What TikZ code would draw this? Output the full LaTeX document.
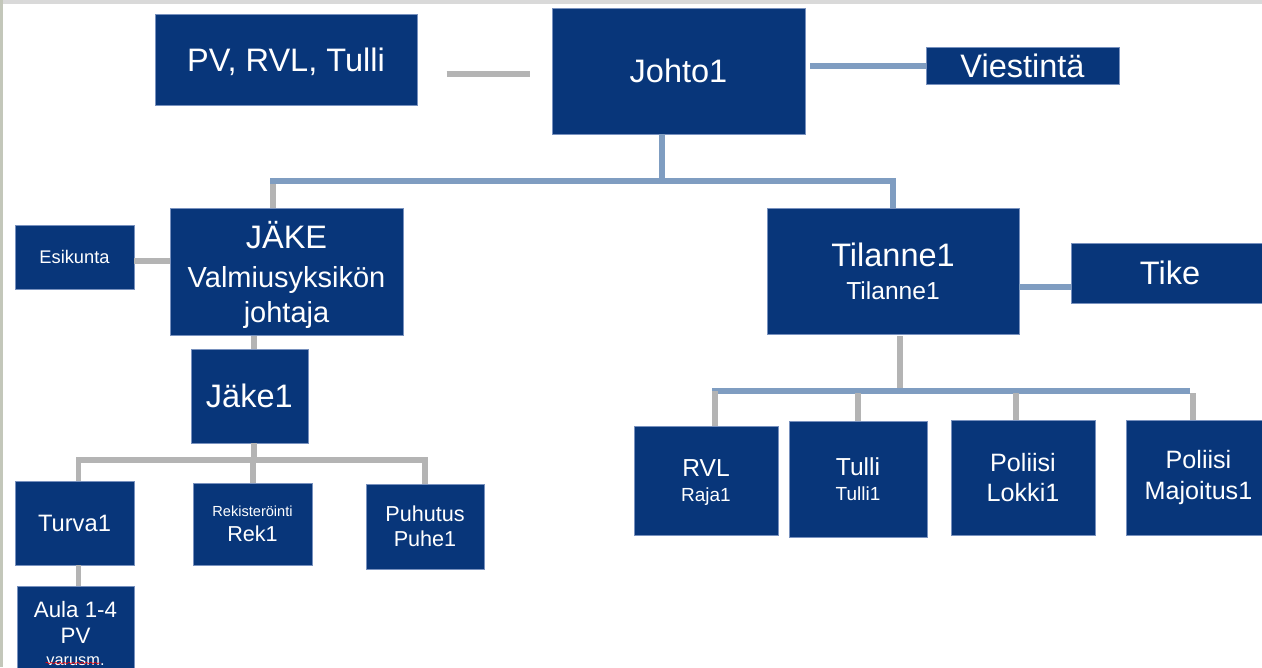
\documentclass[tikz,border=0pt]{standalone}
\usepackage{fontspec}
\setmainfont{Liberation Sans}
\usetikzlibrary{decorations.pathmorphing}

\definecolor{boxblue}{RGB}{8,54,122}
\definecolor{boxedge}{RGB}{120,145,190}
\definecolor{linkblue}{RGB}{127,157,193}
\definecolor{linkgray}{RGB}{180,180,180}
\definecolor{topband}{RGB}{217,217,217}
\definecolor{leftedge}{RGB}{195,199,186}

\newcommand{\txtxl}{\fontsize{18.5}{22}\selectfont}
\newcommand{\txtl}{\fontsize{16.5}{19.9}\selectfont}
\newcommand{\txtm}{\fontsize{14}{16.8}\selectfont}
\newcommand{\txtn}{\fontsize{12.3}{14.2}\selectfont}
\newcommand{\txts}{\fontsize{10.8}{13}\selectfont}
\newcommand{\txtxs}{\fontsize{9.3}{11}\selectfont}
\newcommand{\txtxxs}{\fontsize{8.3}{10}\selectfont}

\tikzstyle{unit}=[rectangle,draw=boxedge,line width=0.3pt,fill=boxblue,text=white,align=center,inner sep=0pt]
\tikzstyle{bluelink}=[draw=linkblue,line width=0.12cm]
\tikzstyle{graylink}=[draw=linkgray,line width=0.12cm]

\begin{document}
\begin{tikzpicture}[x=0.02cm,y=-0.02cm]
  \def\pxl{0.02cm};

  \useasboundingbox (0,0) rectangle (1262,667);
  \clip (0,0) rectangle (1262,667);
  \fill[white] (0,0) rectangle (1262,667);
  \fill[topband] (0,0) rectangle (1262,4);
  \fill[leftedge] (0,0) rectangle (3.5,667);

  % top row
  \node[unit, minimum width=262*\pxl, minimum height=91*\pxl, text depth=0pt, font=\txtxl] (pv) at (286,59.5) {PV, RVL, Tulli};
  \node[unit, minimum width=253*\pxl, minimum height=126*\pxl, font=\txtxl] (johto) at (678.5,71) {Johto1};
  \node[unit, minimum width=193*\pxl, minimum height=37*\pxl, font=\txtxl] (viest) at (1022.5,65.5) {Viestintä};

  % left branch
  \node[unit, minimum width=119*\pxl, minimum height=64*\pxl, font=\fontsize{10.4}{12}\selectfont] (esik) at (74.5,257) {Esikunta};
  \node[unit, minimum width=233*\pxl, minimum height=127*\pxl, text depth=0pt, font=\txtl] (jake) at (286.5,272)
    {{\txtxl JÄKE}\\[2.3pt]Valmiusyksikön\\johtaja};
  \node[unit, minimum width=117*\pxl, minimum height=94*\pxl, font=\txtxl] (jake1) at (249.3,396) {Jäke1};
  \node[unit, minimum width=119*\pxl, minimum height=84*\pxl, font=\fontsize{13.5}{16}\selectfont] (turva) at (74.5,523) {Turva1};
  \node[unit, minimum width=119*\pxl, minimum height=82*\pxl, font=\txtn] (rek) at (252.5,524)
    {{\txtxxs Rekisteröinti}\\Rek1};
  \node[unit, minimum width=118*\pxl, minimum height=85*\pxl, font=\txtn] (puhe) at (425,526.5)
    {Puhutus\\Puhe1};
  \node[unit, minimum width=117*\pxl, minimum height=95*\pxl, font=\fontsize{12.7}{14.8}\selectfont] (aula) at (75.5,633.5)
    {Aula 1-4\\PV\\[-2.8pt]{\txtxs varusm.}};

  % right branch
  \node[unit, minimum width=252*\pxl, minimum height=126*\pxl, font=\fontsize{18.5}{18.6}\selectfont] (tilanne) at (893,271)
    {Tilanne1\\{\txtm Tilanne1}};
  \node[unit, minimum width=198*\pxl, minimum height=60*\pxl, font=\txtxl] (tike) at (1170,273) {Tike};
  \node[unit, minimum width=144*\pxl, minimum height=109*\pxl, text depth=0pt, font=\fontsize{14}{14}\selectfont] (rvl) at (706,480.5)
    {RVL\\{\txts Raja1}};
  \node[unit, minimum width=138*\pxl, minimum height=116*\pxl, font=\fontsize{14}{14.2}\selectfont] (tulli) at (858,479)
    {Tulli\\{\txts Tulli1}};
  \node[unit, minimum width=144*\pxl, minimum height=115*\pxl, font=\fontsize{14.3}{17.6}\selectfont] (lokki) at (1023,477.5)
    {Poliisi\\Lokki1};
  \node[unit, minimum width=144*\pxl, minimum height=115*\pxl, font=\fontsize{14.3}{17.6}\selectfont] (majoitus) at (1198.5,477.5)
    {Poliisi\\Majoitus1};

  % spell check mark
  \draw[red, line width=0.3pt, decorate, decoration={snake, amplitude=0.5pt, segment length=2.5pt}]
    ([shift={(-30,29.5)}]aula.center) -- ([shift={(25,29.5)}]aula.center);

  % connectors at the top
  \draw[graylink] ([shift={(-105,3)}]johto.west) -- ([shift={(-22,3)}]johto.west);
  \draw[bluelink] ([shift={(5,0)}]johto.east |- viest.west) -- (viest.west);
  \coordinate (topbar) at ([shift={(-17,47)}]johto.south);
  \coordinate (jaketop) at ([shift={(-14,0)}]jake.north);
  \draw[bluelink] ([shift={(-17,0)}]johto.south) -- (topbar);
  \draw[bluelink] (tilanne.north) |- (topbar);
  \draw[bluelink] (topbar) -- ([shift={(-3,0)}]jaketop |- topbar);
  \draw[graylink] (jaketop) -- ([shift={(0,3)}]jaketop |- topbar);

  % connectors of the left branch
  \draw[graylink] ([shift={(0,3.5)}]esik.east) -- ([shift={(0,3.5)}]esik.east -| jake.west);
  \coordinate (jaketrunk) at ([shift={(5,0)}]jake1.north);
  \draw[graylink] (jaketrunk) -- (jaketrunk |- jake.south);
  \coordinate (jakebar) at ([shift={(5,17)}]jake1.south);
  \coordinate (turvatop) at ([shift={(4,0)}]turva.north);
  \draw[graylink] ([shift={(5,0)}]jake1.south) -- (jakebar);
  \draw[graylink] (turvatop) |- (jakebar) -| (puhe.north);
  \draw[graylink] (rek.north) -- ([shift={(0,-3)}]rek.north |- jakebar);
  \draw[graylink] ([shift={(4,0)}]turva.south) -- ([shift={(4,0)}]turva.south |- aula.north);

  % connectors of the right branch
  \draw[bluelink] ([shift={(0,15.5)}]tilanne.east) -- ([shift={(0,15.5)}]tilanne.east -| tike.west);
  \coordinate (tilbar) at ([shift={(7,56.5)}]tilanne.south);
  \draw[graylink] ([shift={(7,2)}]tilanne.south) -- (tilbar);
  \coordinate (rvltop) at ([shift={(9,0)}]rvl.north);
  \coordinate (tullitop) at (tulli.north);
  \coordinate (lokkitop) at ([shift={(-7,0)}]lokki.north);
  \coordinate (majtop) at ([shift={(-5.5,0)}]majoitus.north);
  \draw[bluelink] ([shift={(-3,0)}]rvltop |- tilbar) -- ([shift={(-3,0)}]majtop |- tilbar);
  \foreach \kid/\gap in {rvltop/0, tullitop/2, lokkitop/2, majtop/2} {
    \draw[graylink] (\kid) -- ([shift={(0,\gap)}]\kid |- tilbar);
  }
\end{tikzpicture}
\end{document}
